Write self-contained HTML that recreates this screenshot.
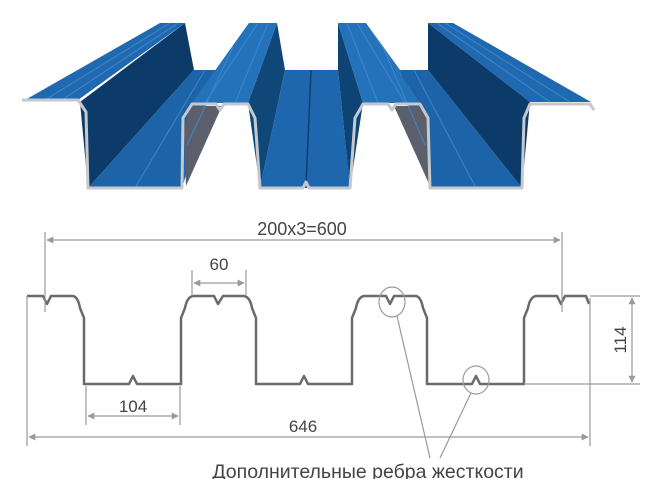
<!DOCTYPE html>
<html><head><meta charset="utf-8"><style>
html,body{margin:0;padding:0;background:#fff;}
svg{display:block;}
text{font-family:"Liberation Sans","DejaVu Sans",sans-serif;fill:#444;}
</style></head><body>
<svg width="664" height="479" viewBox="0 0 664 479" xmlns="http://www.w3.org/2000/svg">
<defs>
<marker id="ar" viewBox="0 0 10 10" refX="9" refY="5" markerWidth="9" markerHeight="7" orient="auto-start-reverse" markerUnits="userSpaceOnUse">
<path d="M0,0 L10,5 L0,10 z" fill="#9a9a9a"/></marker>
</defs>
<g stroke="none">
<polygon points="185,23 194,70 88,188 80,102" fill="#0c3b69"/>
<polygon points="194,70 217,70 182,188 88,188" fill="#1d63a8"/>
<polygon points="217,70 249,23 192,103 182,188" fill="#1f6cb4"/>
<polygon points="277,23 285,70 260,188 248,103" fill="#0f4878"/>
<polygon points="285,70 338,70 350,188 260,188" fill="#1e66ad"/>
<polygon points="338,70 338,23 363,103 350,188" fill="#0e4474"/>
<polygon points="366,23 400,70 430,188 420,103" fill="#1f6cb4"/>
<polygon points="400,70 428,70 522,188 430,188" fill="#1d63a8"/>
<polygon points="428,70 428,23 530,102 522,188" fill="#0c3b69"/>
<polygon points="160,23 185,23 78,100 25,100" fill="#2068b0"/>
<polygon points="249,23 277,23 248,103 192,103" fill="#2372ba"/>
<polygon points="338,23 366,23 420,103 363,103" fill="#2372ba"/>
<polygon points="428,23 453,23 591,102 530,102" fill="#2068b0"/>
<polygon points="190,106 222,106 186,186 184,130" fill="#5b5f6c"/>
<polygon points="394,106 423,106 428,125 430,186" fill="#5b5f6c"/>
</g>
<g stroke="#3d8ad0" stroke-width="1.2" fill="none" opacity="0.8">
<line x1="170" y1="23" x2="45" y2="100"/><line x1="178" y1="23" x2="62" y2="100"/>
<line x1="233" y1="47" x2="187" y2="145"/><line x1="258" y1="23" x2="205" y2="103"/><line x1="268" y1="23" x2="235" y2="103"/>
<line x1="347" y1="23" x2="378" y2="103"/><line x1="357" y1="23" x2="405" y2="103"/><line x1="383" y1="47" x2="425" y2="145"/>
<line x1="437" y1="23" x2="550" y2="102"/><line x1="445" y1="23" x2="570" y2="102"/>
<line x1="205" y1="70" x2="135" y2="188"/><line x1="414" y1="70" x2="476" y2="188"/>
</g>
<line x1="311" y1="70" x2="306" y2="186" stroke="#0d3f6e" stroke-width="1.5"/>
<polyline fill="none" stroke="#c5c9ce" stroke-width="3" stroke-linejoin="round" points="22,100 78,100 86,112 88,188 182,188 183,118 192,104 216,104 220,110 224,104 248,104 255,118 260,188 303,188 306,182 309,188 350,188 355,118 363,104 388,104 392,110 396,104 420,104 428,118 430,188 522,188 524,118 530,104 590,104 594,110"/>

<path d="M27,296 L43,296 L47,304 L51,296 L73,296 Q78,297 80,308 L84,318 L84,384 L129,384 L133,376 L137,384 L181,384 L181,318 L185,308 Q187,297 193,296 L214,296 L218,304 L223,296 L244,296 Q250,297 252,308 L256,318 L256,384 L300,384 L304,376 L308,384 L352,384 L352,318 L356,308 Q358,297 364,296 L386,296 L390,304 L394,296 L416,296 Q421,297 423,308 L427,318 L427,384 L472,384 L476,376 L480,384 L524,384 L524,318 L528,308 Q530,297 536,296 L557,296 L561,304 L565,296 L586,296 L589,304" fill="none" stroke="#6a6a6a" stroke-width="2.5" stroke-linejoin="round"/>
<g stroke="#9a9a9a" stroke-width="1.2" fill="none">
<line x1="45" y1="232" x2="45" y2="312"/><line x1="562" y1="232" x2="562" y2="312"/>
<line x1="47" y1="240" x2="560" y2="240" marker-start="url(#ar)" marker-end="url(#ar)"/>
<line x1="192" y1="270" x2="192" y2="296"/><line x1="246" y1="270" x2="246" y2="296"/>
<line x1="194" y1="283" x2="244" y2="283" marker-start="url(#ar)" marker-end="url(#ar)"/>
<line x1="86" y1="386" x2="86" y2="425"/><line x1="180" y1="386" x2="180" y2="425"/>
<line x1="88" y1="416" x2="178" y2="416" marker-start="url(#ar)" marker-end="url(#ar)"/>
<line x1="27" y1="296" x2="27" y2="446"/><line x1="590" y1="298" x2="590" y2="446"/>
<line x1="29" y1="437" x2="588" y2="437" marker-start="url(#ar)" marker-end="url(#ar)"/>
<line x1="590" y1="296" x2="640" y2="296"/><line x1="524" y1="384" x2="640" y2="384"/>
<line x1="632" y1="298" x2="632" y2="382" marker-start="url(#ar)" marker-end="url(#ar)"/>
<ellipse cx="392" cy="302" rx="13" ry="15"/><ellipse cx="476" cy="380" rx="13" ry="14"/>
<line x1="397" y1="316" x2="430" y2="458"/><line x1="471" y1="393" x2="440" y2="458"/>
</g>
<text x="302" y="235" font-size="18" text-anchor="middle">200x3=600</text>
<text x="219" y="270" font-size="17" text-anchor="middle">60</text>
<text x="133" y="412" font-size="17" text-anchor="middle">104</text>
<text x="303" y="432" font-size="17" text-anchor="middle">646</text>
<text x="0" y="0" font-size="17" text-anchor="middle" transform="translate(626,340) rotate(-90)">114</text>
<text x="368" y="478" font-size="19.5" text-anchor="middle">Дополнительные ребра жесткости</text>
</svg>
</body></html>
